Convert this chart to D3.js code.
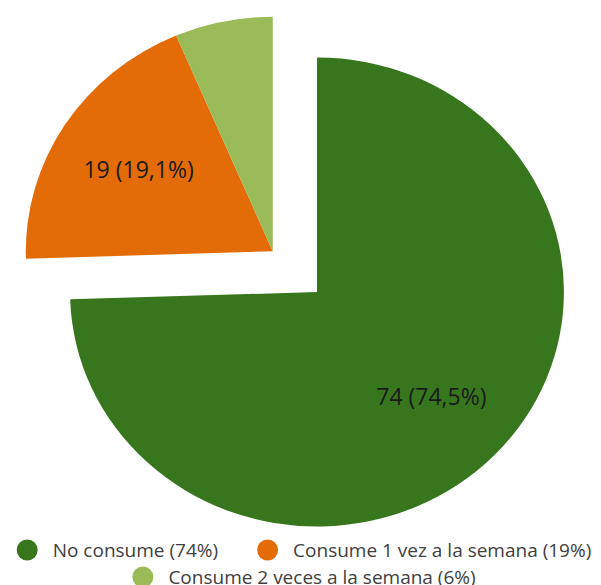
<!DOCTYPE html>
<html>
<head>
<meta charset="utf-8">
<script src="https://cdn.jsdelivr.net/npm/d3@7/dist/d3.min.js"></script>
<style>
  html, body { margin: 0; padding: 0; background: #fff; }
  svg { display: block; }
  text { font-family: "Open Sans", "Noto Sans", sans-serif; }
</style>
</head>
<body>
<svg id="chart" width="601" height="585"></svg>
<script>
// Frecuencia de consumo semanal
const categories = ["No consume", "Consume 1 vez a la semana", "Consume 2 veces a la semana"];
const counts = [74, 19, 6];
const percents = [74.5, 19.1, 6.4];
const legendPercents = [74, 19, 6];
const colors = ["#38761d", "#e36c09", "#9bbb59"];
const showLabel = [true, true, false];

const svg = d3.select("#chart");
const width = 601;

const cx = 317, cy = 292;
const radius = 234.5;
const stretchX = 1.053;
const explodeDist = 58.5;

const pie = d3.pie().sort(null).value(d => d).startAngle(0).endAngle(2 * Math.PI);
const arcs = pie(percents);

const arc = d3.arc().innerRadius(0).outerRadius(radius);
const labelArc = d3.arc().innerRadius(radius * 0.645).outerRadius(radius * 0.645);

// The two smaller slices are pulled out together along their shared mid-angle
const exploded = arcs.slice(1);
const groupMid = (exploded[0].startAngle + exploded[exploded.length - 1].endAngle) / 2;
const offset = (i) => i === 0 ? [0, 0] :
  [explodeDist * Math.sin(groupMid), -explodeDist * Math.cos(groupMid)];

const root = svg.append("g").attr("transform", `translate(${cx},${cy})`);

root.selectAll("path.slice")
  .data(arcs)
  .join("path")
  .attr("class", "slice")
  .attr("fill", (d, i) => colors[i])
  .attr("transform", (d, i) => `scale(${stretchX},1) translate(${offset(i)[0]},${offset(i)[1]})`)
  .attr("d", arc);

root.selectAll("text.value")
  .data(arcs.filter((d, i) => showLabel[i]))
  .join("text")
  .attr("class", "value")
  .attr("transform", d => {
    const [ox, oy] = offset(d.index);
    const [lx, ly] = labelArc.centroid(d);
    return `translate(${(lx + ox) * stretchX},${ly + oy})`;
  })
  .attr("text-anchor", "middle")
  .attr("dy", "0.35em")
  .attr("font-size", 23)
  .attr("fill", "#1a1a1a")
  .text(d => `${counts[d.index]} (${String(percents[d.index]).replace(".", ",")}%)`);

// Legend
const legendCenter = 304;
const rows = [[0, 1], [2]];
const rowY = [550, 577];
const dotR = 10.5, textGap = 15, itemGap = 39;
const legend = svg.append("g");

rows.forEach((row, r) => {
  const g = legend.append("g");
  let x = 0;
  row.forEach((idx, k) => {
    if (k > 0) x += itemGap;
    g.append("circle").attr("cx", x + dotR).attr("cy", rowY[r]).attr("r", dotR).attr("fill", colors[idx]);
    const t = g.append("text")
      .attr("x", x + dotR * 2 + textGap)
      .attr("y", rowY[r])
      .attr("dy", "0.35em")
      .attr("font-size", 19)
      .attr("fill", "#404040")
      .text(`${categories[idx]} (${legendPercents[idx]}%)`);
    x += dotR * 2 + textGap + t.node().getComputedTextLength();
  });
  g.attr("transform", `translate(${legendCenter - x / 2},0)`);
});
</script>
</body>
</html>
